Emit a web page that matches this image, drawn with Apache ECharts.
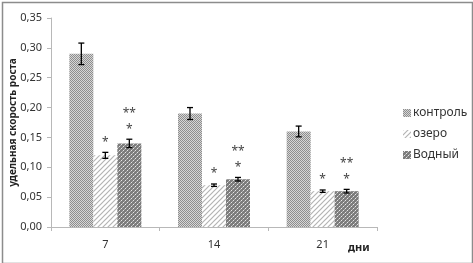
<!DOCTYPE html>
<html>
<head>
<meta charset="utf-8">
<script src="https://cdn.jsdelivr.net/npm/echarts@6/dist/echarts.min.js"></script>
<style>
  html, body { margin: 0; padding: 0; background: #fff; }
  #chart { width: 473px; height: 263px; }
</style>
</head>
<body>
<div id="chart"></div>
<script>
var days = ['7', '14', '21'];
var seriesNames = ['контроль', 'озеро', 'Водный'];
var control = [0.29, 0.19, 0.16];
var ozero = [0.12, 0.07, 0.06];
var vodny = [0.14, 0.08, 0.06];
var controlErr = [0.018, 0.010, 0.009];
var ozeroErr = [0.005, 0.002, 0.002];
var vodnyErr = [0.007, 0.003, 0.003];
var ozeroMark = ['*', '*', '*'];
var vodnyMark = ['**\n*', '**\n*', '**\n*'];

var FONT = 'Noto Sans';
var BAR_W = 24;

// текстуры столбцов
function makePattern(kind) {
  var c = document.createElement('canvas');
  var ctx = c.getContext('2d');
  if (kind === 0) {
    c.width = 2; c.height = 2;
    ctx.fillStyle = '#d6d6d6'; ctx.fillRect(0, 0, 2, 2);
    ctx.fillStyle = '#8e8e8e'; ctx.fillRect(0, 0, 1, 1); ctx.fillRect(1, 1, 1, 1);
  } else if (kind === 1) {
    c.width = 5; c.height = 5;
    ctx.fillStyle = '#ffffff'; ctx.fillRect(0, 0, 5, 5);
    ctx.strokeStyle = '#b4b4b4'; ctx.lineWidth = 1.2;
    ctx.beginPath();
    ctx.moveTo(-1, 6); ctx.lineTo(6, -1);
    ctx.moveTo(-1, 1); ctx.lineTo(1, -1);
    ctx.moveTo(4, 6); ctx.lineTo(6, 4);
    ctx.stroke();
  } else {
    c.width = 4; c.height = 4;
    ctx.fillStyle = '#7c7c7c'; ctx.fillRect(0, 0, 4, 4);
    ctx.fillStyle = '#e6e6e6';
    ctx.fillRect(1, 0, 1, 1); ctx.fillRect(3, 2, 1, 1);
    ctx.fillStyle = '#b0b0b0';
    ctx.fillRect(0, 1, 1, 1); ctx.fillRect(2, 3, 1, 1);
  }
  return { image: c, repeat: 'repeat' };
}

var values = [control, ozero, vodny];
var errs = [controlErr, ozeroErr, vodnyErr];
var marks = [null, ozeroMark, vodnyMark];

var series = [];
values.forEach(function (v, i) {
  series.push({
    name: seriesNames[i],
    type: 'bar',
    data: v,
    barWidth: BAR_W,
    barGap: '0%',
    itemStyle: { color: makePattern(i) },
    z: 2
  });
});

// планки погрешностей
values.forEach(function (v, i) {
  series.push({
    type: 'custom',
    silent: true,
    z: 5,
    data: v.map(function (val, k) { return [k, val, errs[i][k]]; }),
    renderItem: function (params, api) {
      var k = api.value(0), val = api.value(1), e = api.value(2);
      var off = (i - 1) * BAR_W;
      var top = api.coord([k, val + e]);
      var bot = api.coord([k, val - e]);
      var x = top[0] + off;
      var st = { stroke: '#000', lineWidth: 1.3 };
      return {
        type: 'group',
        children: [
          { type: 'line', shape: { x1: x, y1: top[1], x2: x, y2: bot[1] }, style: st },
          { type: 'line', shape: { x1: x - 3, y1: top[1], x2: x + 3, y2: top[1] }, style: st },
          { type: 'line', shape: { x1: x - 3, y1: bot[1], x2: x + 3, y2: bot[1] }, style: st }
        ]
      };
    }
  });
});

// звёздочки значимости
[1, 2].forEach(function (i) {
  series.push({
    type: 'custom',
    silent: true,
    z: 6,
    data: values[i].map(function (val, k) { return [k, val + errs[i][k]]; }),
    renderItem: function (params, api) {
      var k = api.value(0), t = api.value(1);
      var p = api.coord([k, t]);
      return {
        type: 'text',
        style: {
          text: marks[i][k],
          x: p[0] + (i - 1) * BAR_W,
          y: p[1] - 2,
          align: 'center',
          verticalAlign: 'bottom',
          font: '12px "' + FONT + '"',
          lineHeight: 16,
          fill: '#444'
        }
      };
    }
  });
});

var chart = echarts.init(document.getElementById('chart'));
chart.setOption({
  animation: false,
  backgroundColor: '#fff',
  textStyle: { fontFamily: FONT },
  grid: { left: 51, right: 96, top: 18, bottom: 36, containLabel: false, outerBoundsMode: 'none' },
  legend: {
    data: seriesNames,
    orient: 'vertical',
    left: 398,
    top: 102,
    itemWidth: 8,
    itemHeight: 8,
    itemGap: 9,
    icon: 'rect',
    textStyle: { fontFamily: FONT, fontSize: 12, color: '#333', padding: [0, 0, 0, -3] }
  },
  xAxis: {
    type: 'category',
    data: days,
    axisLine: { lineStyle: { color: '#b8b8b8' } },
    axisTick: { show: true, length: 4, lineStyle: { color: '#b8b8b8' } },
    axisLabel: { color: '#333', fontSize: 11, margin: 12, fontFamily: FONT }
  },
  yAxis: {
    type: 'value',
    min: 0,
    max: 0.35,
    interval: 0.05,
    name: 'удельная скорость роста',
    nameLocation: 'middle',
    nameGap: 33,
    nameMoveOverlap: false,
    nameTextStyle: { fontFamily: FONT, fontSize: 10, fontWeight: 'bold', color: '#222' },
    axisLine: { show: true, lineStyle: { color: '#b8b8b8' } },
    axisTick: { show: true, length: 4, lineStyle: { color: '#b8b8b8' } },
    splitLine: { show: false },
    axisLabel: {
      color: '#333',
      fontSize: 11,
      margin: 9,
      fontFamily: FONT,
      formatter: function (v) { return v.toFixed(2).replace('.', ','); }
    }
  },
  graphic: [
    {
      type: 'text', left: 348, top: 242,
      style: { text: 'дни', font: 'bold 11px "' + FONT + '"', fill: '#222' }
    },
    {
      type: 'rect', left: 0, top: 0, silent: true, z: 100,
      shape: { x: 0.5, y: 0.5, width: 470, height: 261 },
      style: { fill: 'none', stroke: '#8c8c8c', lineWidth: 1.5 }
    }
  ],
  series: series
});
</script>
</body>
</html>
